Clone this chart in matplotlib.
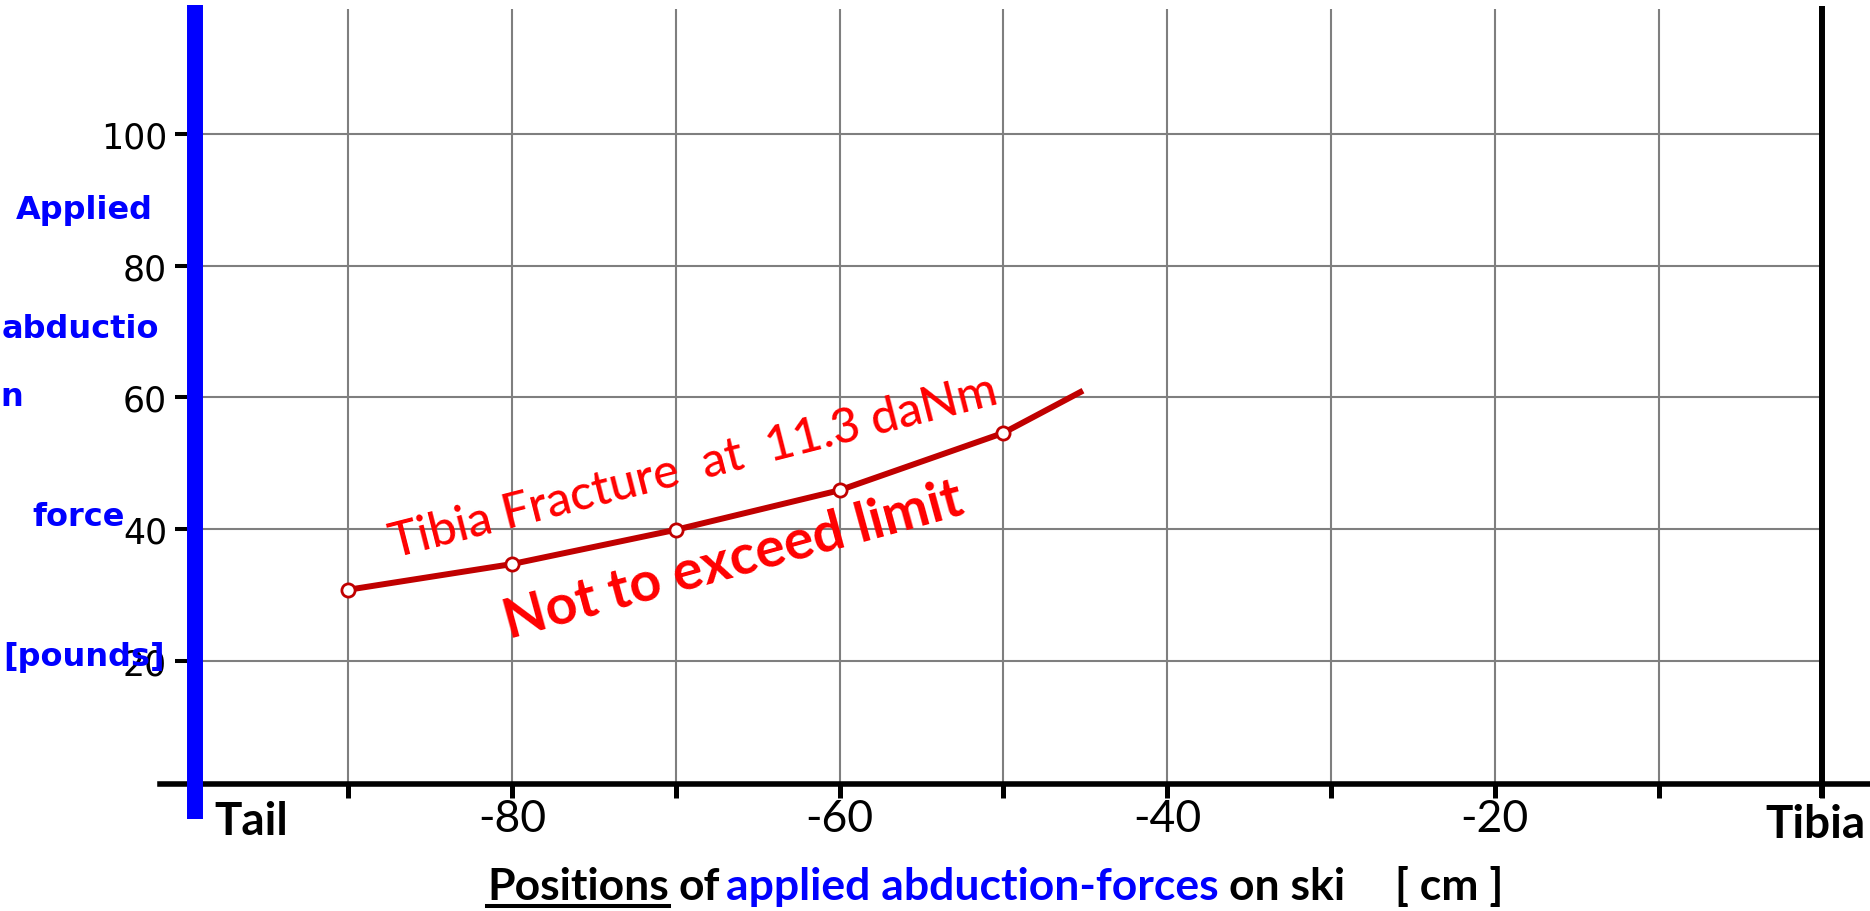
import matplotlib.pyplot as plt
from matplotlib.lines import Line2D

# measured abduction force [pounds] vs. position on ski [cm]
pos_cm = [-90, -80, -70, -60, -50]
force_lb = [30.8, 34.7, 39.9, 45.9, 54.6]
# fracture curve runs a bit past the last marker
curve_x = [-90, -80, -70, -60, -50, -45.3]
curve_y = [30.8, 34.7, 39.9, 45.9, 54.6, 60.8]

x_ticks = [-90, -80, -70, -60, -50, -40, -30, -20, -10, 0]
x_ticklabels = ['', '-80', '', '-60', '', '-40', '', '-20', '', '']
x_grid = [-90, -80, -70, -60, -50, -40, -30, -20, -10]
y_ticks = [20, 40, 60, 80, 100]
y_ticklabels = ['20', '40', '60', '80', '100']

ylabel_parts = ['Applied', 'abductio', 'n', 'force', '[pounds]']
xlabel_parts = ['Positions', 'of', 'applied abduction-forces', 'on ski', '[ cm ]']
xlabel_colors = ['black', 'black', '#0000FF', 'black', 'black']

W, H = 1870, 912
cal = ['Lato', 'DejaVu Sans']
grid_col = '#7f7f7f'
line_col = '#C00000'

fig = plt.figure(figsize=(W / 100, H / 100), dpi=100)
ax = fig.add_axes([160 / W, 1 - 785 / H, 1710 / W, 775 / H])
ax.set_xlim(-101.49, 2.91)
ax.set_ylim(1.32, 118.94)

for s in ['top', 'right']:
    ax.spines[s].set_visible(False)
ax.spines['left'].set_position(('data', -99.84))
ax.spines['left'].set_edgecolor('none')
ax.spines['bottom'].set_linewidth(4)

ax.set_xticks(x_ticks)
ax.set_xticklabels(x_ticklabels, fontsize=32, family=cal)
ax.set_yticks(y_ticks)
ax.set_yticklabels(y_ticklabels, fontsize=25, family='DejaVu Sans')
ax.tick_params(axis='x', direction='out', length=10, width=3.6, pad=0)
ax.tick_params(axis='y', direction='out', length=8.6, width=2.9, pad=5.8)

# grid, only between blue axis and tibia line
y0, y1 = ax.get_ylim()
ax.vlines(x_grid, y0, y1, color=grid_col, lw=1.5, zorder=1)
ax.hlines(y_ticks, -99.0, 0, color=grid_col, lw=1.5, zorder=1)

# blue ski axis and black tibia line
ax.axvline(-99.35, ymin=-0.045, ymax=1.005, color='#0000FF', lw=11.5,
           clip_on=False, solid_capstyle='butt', zorder=5)
ax.axvline(0, ymin=-0.018, ymax=1.004, color='black', lw=4.3,
           clip_on=False, solid_capstyle='butt', zorder=5)

ax.plot(curve_x, curve_y, color=line_col, lw=4.3, zorder=3)
ax.plot(pos_cm, force_lb, 'o', ms=9.5, mfc='white', mec=line_col, mew=2, zorder=4)

ax.text(-68.7, 47.5, 'Tibia Fracture  at  11.3 daNm', rotation=14.3, rotation_mode='anchor',
        ha='center', va='baseline', color='#FF0000', fontsize=35, fontweight='medium',
        family=cal)
ax.text(-66.2, 33.0, 'Not to exceed limit', rotation=15.3, rotation_mode='anchor',
        ha='center', va='baseline', color='#FF0000', fontsize=40, fontweight='bold',
        family=cal)

xt = ax.get_xaxis_transform()
ax.text(-95.9, -0.048, 'Tail', transform=xt, ha='center', va='center',
        fontsize=33, fontweight='bold', family=cal)
ax.text(-3.45, -0.052, 'Tibia', transform=xt, ha='left', va='center',
        fontsize=33, fontweight='bold', family=cal)

# blue y-label, broken into lines as in the original
ylab_pos = [(153, 210, 'right'), (2, 330, 'left'), (0, 398, 'left'),
            (125, 517, 'right'), (165, 658, 'right')]
for txt, (px, py, ha) in zip(ylabel_parts, ylab_pos):
    fig.text(px / W, 1 - py / H, txt, ha=ha, va='center', color='#0000FF',
             fontsize=23, fontweight='bold', family='DejaVu Sans')

# multi-coloured x-label
fig.canvas.draw()
r = fig.canvas.get_renderer()
gaps = [10, 6, 10, 50]
x0 = 487
for i, (txt, col) in enumerate(zip(xlabel_parts, xlabel_colors)):
    t = fig.text(x0 / W, 1 - 900 / H, txt, color=col, fontsize=32, fontweight='bold',
                 family=cal, va='baseline', ha='left')
    bb = t.get_window_extent(r)
    if i == 0:
        fig.add_artist(Line2D([bb.x0 / W, bb.x1 / W], [1 - 906.5 / H] * 2,
                              transform=fig.transFigure, color='black', lw=2.9))
    if i < len(gaps):
        x0 = bb.x1 + gaps[i]

fig.savefig('out.png', dpi=100)
